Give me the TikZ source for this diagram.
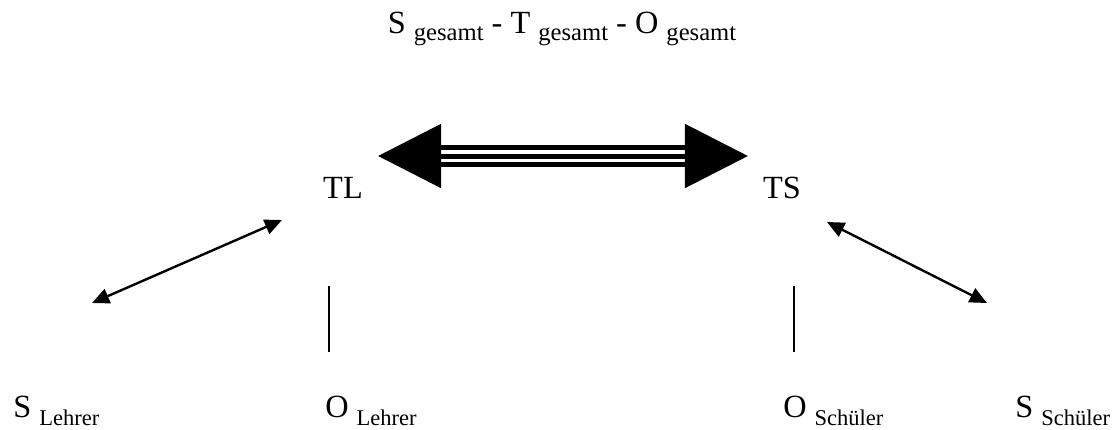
\documentclass[tikz,border=0pt]{standalone}
\usepackage{fontspec}
\setmainfont{Liberation Serif}
\usetikzlibrary{arrows.meta}
\newcommand\lowsub[1]{\raisebox{-6pt}{\fontsize{16}{19}\selectfont #1}}
\newcommand\lowsubsm[1]{\raisebox{-5pt}{\fontsize{17.5}{20}\selectfont #1}}

\begin{document}
\begin{tikzpicture}[
  x=0.025cm, y=-0.025cm,
  lbl/.style={inner sep=0pt, font=\fontsize{23}{27}\selectfont},
  ttl/.style={inner sep=0pt, font=\fontsize{23}{27}\selectfont},
  shaft/.style={line width=0.125cm, black},
  bigarr/.style={shaft, {Triangle[length=1.575cm, width=1.575cm]}-{Triangle[length=1.575cm, width=1.575cm]}},
  smallarr/.style={line width=0.06cm, {Triangle[length=0.43cm, width=0.38cm]}-{Triangle[length=0.43cm, width=0.38cm]}},
  link/.style={line width=0.05cm}
]
\useasboundingbox (0,0) rectangle (1119,429);
% labels
\node[ttl, anchor=base] (ges) at (562,33) {S \lowsubsm{gesamt} - T \lowsubsm{gesamt} - O \lowsubsm{gesamt}};
\node[lbl, anchor=base] (tl) at (343,198) {TL};
\node[lbl, anchor=base] (ts) at (782,198) {TS};
\node[lbl, anchor=base west] (sl) at (13,417) {S \lowsub{Lehrer}};
\node[lbl, anchor=base west] (ol) at (325,417) {O \lowsub{Lehrer}};
\node[lbl, anchor=base west] (os) at (783,417) {O \lowsub{Schüler}};
\node[lbl, anchor=base west] (ss) at (1015,417) {S \lowsub{Schüler}};
% connector ends
\coordinate (bigl) at (378,156);
\coordinate (bigr) at (748,156);
\coordinate (tl-in) at (282,220);
\coordinate (sl-in) at (92,303);
\coordinate (ts-in) at (827,222);
\coordinate (ss-in) at (987,303);
\coordinate (tl-dn) at (329,286);
\coordinate (ol-up) at (329,352);
\coordinate (ts-dn) at (794,286);
\coordinate (os-up) at (794,352);
% big triple arrow
\draw[bigarr] (bigl) -- (bigr);
\draw[shaft, shorten <=1.575cm, shorten >=1.575cm] ([yshift=0.215cm]bigl) -- ([yshift=0.215cm]bigr);
\draw[shaft, shorten <=1.575cm, shorten >=1.575cm] ([yshift=-0.215cm]bigl) -- ([yshift=-0.215cm]bigr);
% small arrows and lines
\draw[smallarr] (sl-in) -- (tl-in);
\draw[smallarr] (ts-in) -- (ss-in);
\draw[link] (tl-dn) -- (ol-up);
\draw[link] (ts-dn) -- (os-up);
\end{tikzpicture}
\end{document}
